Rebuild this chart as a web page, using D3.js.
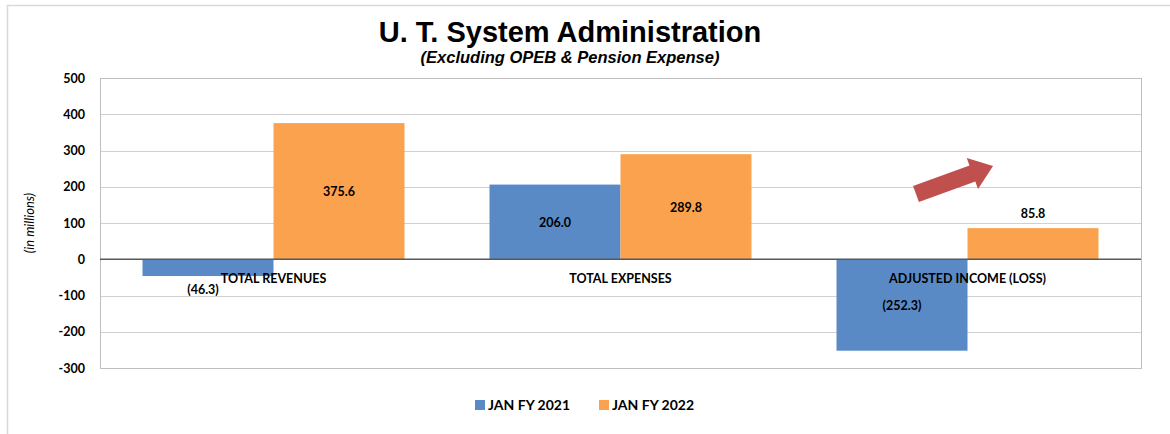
<!DOCTYPE html>
<html>
<head>
<meta charset="utf-8">
<script src="https://cdn.jsdelivr.net/npm/d3@7"></script>
<style>
  body { margin: 0; background: #fff; }
  svg { display: block; }
</style>
</head>
<body>
<svg id="chart" width="1170" height="434"></svg>
<script>
'use strict'

const categories = ['TOTAL REVENUES', 'TOTAL EXPENSES', 'ADJUSTED INCOME (LOSS)']
const seriesNames = ['JAN FY 2021', 'JAN FY 2022']
const fy2021 = [-46.3, 206.0, -252.3]
const fy2022 = [375.6, 289.8, 85.8]
const yTicks = [500, 400, 300, 200, 100, 0, -100, -200, -300]
const colors = ['#5a8ac6', '#fba24f']

const svg = d3.select('#chart')
const labelFont = 'Lato, "Open Sans", sans-serif'
const titleFont = '"Liberation Sans", Arial, sans-serif'

// outer frame
svg.append('rect')
    .attr('x', 7.5).attr('y', 5.5)
    .attr('width', 1180).attr('height', 440)
    .attr('fill', 'none').attr('stroke', '#d9d9d9').attr('stroke-width', 1.5)

const plot = {left: 100, right: 1141, top: 78, bottom: 368}

const y = d3.scaleLinear().domain([-300, 500]).range([plot.bottom, plot.top])
const x0 = d3.scaleBand().domain(categories)
    .range([plot.left, plot.right])
    .paddingInner(0.245).paddingOuter(0.1225)
const x1 = d3.scaleBand().domain(seriesNames).range([0, x0.bandwidth()])

const rows = categories.map((c, i) => ({
    cat: c,
    values: [
        {series: seriesNames[0], value: fy2021[i]},
        {series: seriesNames[1], value: fy2022[i]}
    ]
}))

// gridlines
svg.append('g')
    .selectAll('line')
    .data(yTicks.filter(d => d !== 0))
    .join('line')
    .attr('x1', plot.left).attr('x2', plot.right)
    .attr('y1', d => Math.round(y(d)) + 0.5).attr('y2', d => Math.round(y(d)) + 0.5)
    .attr('stroke', '#d0d0d0').attr('stroke-width', 1)

// plot border
svg.append('rect')
    .attr('x', plot.left + 0.5).attr('y', plot.top + 0.5)
    .attr('width', plot.right - plot.left).attr('height', plot.bottom - plot.top)
    .attr('fill', 'none').attr('stroke', '#bfbfbf').attr('stroke-width', 1)

// y axis labels (plain hyphen for negatives, like the source)
const yAxis = d3.axisLeft(y).tickValues(yTicks).tickSize(0).tickPadding(15)
    .tickFormat(d => String(d))
svg.append('g')
    .attr('transform', `translate(${plot.left},0)`)
    .call(yAxis)
    .call(g => g.select('.domain').remove())
    .selectAll('text')
    .attr('font-family', labelFont).attr('font-weight', 'bold')
    .attr('font-size', 12.5).attr('fill', '#000')

svg.append('text')
    .attr('transform', `translate(34,${y(100)}) rotate(-90)`)
    .attr('text-anchor', 'middle')
    .attr('font-family', labelFont).attr('font-style', 'italic')
    .attr('font-size', 13).attr('fill', '#000')
    .text('(in millions)')

// bars
const groups = svg.append('g')
    .selectAll('g')
    .data(rows)
    .join('g')
    .attr('transform', d => `translate(${x0(d.cat)},0)`)

groups.selectAll('rect')
    .data(d => d.values)
    .join('rect')
    .attr('x', d => x1(d.series))
    .attr('width', x1.bandwidth())
    .attr('y', d => y(Math.max(0, d.value)))
    .attr('height', d => Math.abs(y(d.value) - y(0)))
    .attr('fill', (d, i) => colors[i])

// zero line
svg.append('line')
    .attr('x1', plot.left).attr('x2', plot.right)
    .attr('y1', y(0)).attr('y2', y(0))
    .attr('stroke', '#595959').attr('stroke-width', 1.5)

// category labels just below zero line
svg.append('g')
    .selectAll('text')
    .data(categories)
    .join('text')
    .attr('x', d => x0(d) + x0.bandwidth() / 2)
    .attr('y', y(0) + 24)
    .attr('text-anchor', 'middle')
    .attr('font-family', labelFont).attr('font-weight', 'bold')
    .attr('font-size', 12.5).attr('fill', '#000')
    .text(d => d)

// value labels
const fmt = v => v < 0 ? `(${d3.format('.1f')(-v)})` : d3.format('.1f')(v)
groups.selectAll('text.val')
    .data(d => d.values)
    .join('text')
    .attr('class', 'val')
    .attr('x', d => x1(d.series) + x1.bandwidth() / 2 - (d.value < 0 && Math.abs(d.value) < 100 ? 5 : 0))
    .attr('y', d => {
        const h = Math.abs(y(d.value) - y(0))
        if (h < 40) return d.value < 0 ? y(d.value) + 18 : y(d.value) - 10
        return (y(d.value) + y(0)) / 2 + 5
    })
    .attr('text-anchor', 'middle')
    .attr('font-family', labelFont).attr('font-weight', 'bold')
    .attr('font-size', 12.5).attr('fill', '#000')
    .text(d => fmt(d.value))

// annotation arrow
svg.append('path')
    .attr('d', 'M0,-8.5 L60,-8.5 L60,-16.5 L82,0 L60,16.5 L60,8.5 L0,8.5 Z')
    .attr('transform', 'translate(916,194) rotate(-20)')
    .attr('fill', '#c0504d')

// title
svg.append('text')
    .attr('x', 570).attr('y', 42)
    .attr('text-anchor', 'middle')
    .attr('font-family', titleFont).attr('font-weight', 'bold')
    .attr('font-size', 29).attr('fill', '#000')
    .text('U. T. System Administration')

svg.append('text')
    .attr('x', 570).attr('y', 63)
    .attr('text-anchor', 'middle')
    .attr('font-family', titleFont).attr('font-weight', 'bold').attr('font-style', 'italic')
    .attr('font-size', 16.5).attr('fill', '#000')
    .text('(Excluding OPEB & Pension Expense)')

// legend
const legendX = [475, 599]
const legend = svg.append('g')
    .selectAll('g')
    .data(seriesNames)
    .join('g')
    .attr('transform', (d, i) => `translate(${legendX[i]},400)`)
legend.append('rect')
    .attr('width', 10).attr('height', 10)
    .attr('fill', (d, i) => colors[i])
legend.append('text')
    .attr('x', 13).attr('y', 10)
    .attr('font-family', labelFont).attr('font-weight', 'bold')
    .attr('font-size', 14).attr('fill', '#000')
    .text(d => d)
</script>
</body>
</html>
